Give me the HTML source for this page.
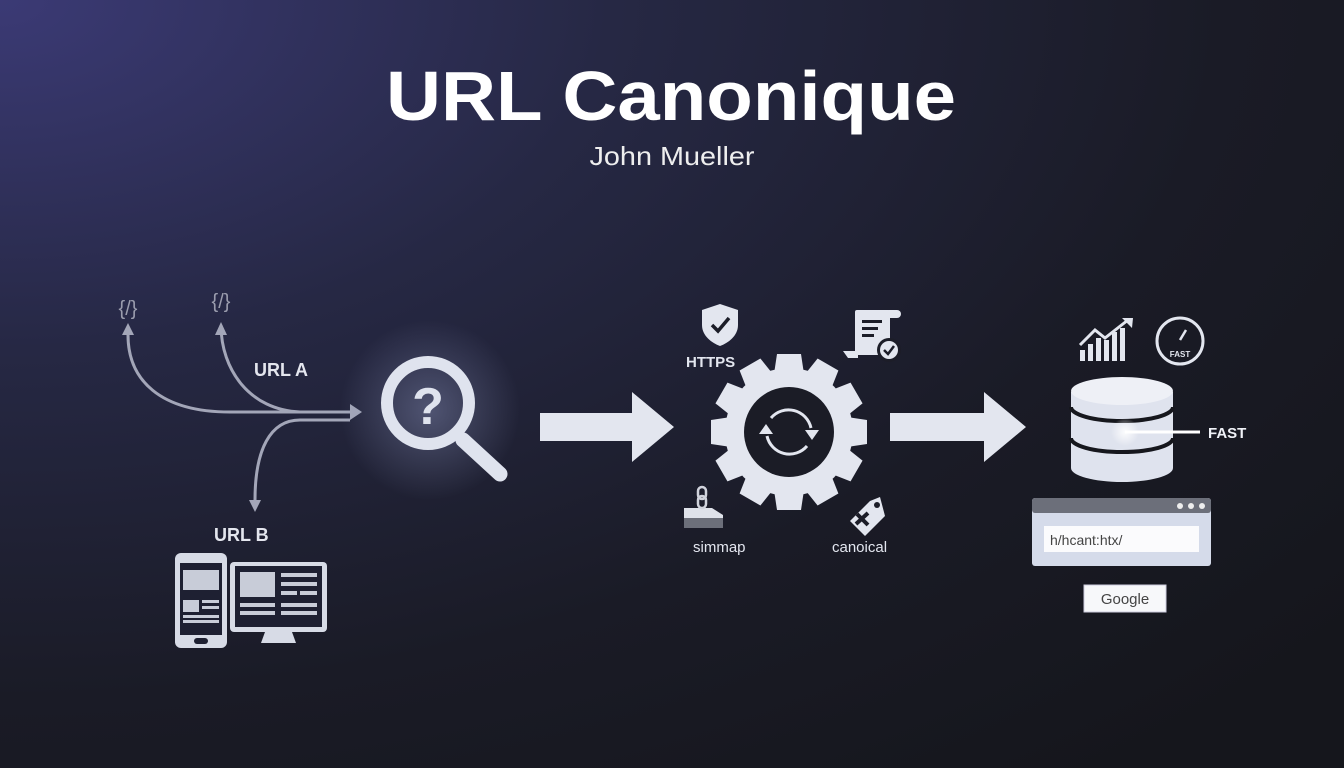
<!DOCTYPE html>
<html><head><meta charset="utf-8"><style>
html,body{margin:0;padding:0;width:1344px;height:768px;overflow:hidden;background:#1b1c26}
</style></head><body>
<svg width="1344" height="768" viewBox="0 0 1344 768" xmlns="http://www.w3.org/2000/svg" font-family="Liberation Sans, sans-serif">
<defs>
<radialGradient id="bg" cx="0" cy="0" r="1.3" gradientUnits="objectBoundingBox">
<stop offset="0" stop-color="#3b3a75"/>
<stop offset="0.35" stop-color="#262844"/>
<stop offset="0.7" stop-color="#1a1b26"/>
<stop offset="1" stop-color="#15161c"/>
</radialGradient>
<radialGradient id="glow"><stop offset="0" stop-color="#8890b8" stop-opacity="0.45"/><stop offset="1" stop-color="#8890b8" stop-opacity="0"/></radialGradient>
<radialGradient id="glow2"><stop offset="0" stop-color="#ffffff" stop-opacity="0.9"/><stop offset="1" stop-color="#ffffff" stop-opacity="0"/></radialGradient>
</defs>
<rect width="1344" height="768" fill="url(#bg)"/>
<text x="671" y="120" text-anchor="middle" font-size="70" font-weight="bold" fill="#fff" textLength="570" lengthAdjust="spacingAndGlyphs">URL Canonique</text>
<text x="672" y="165" text-anchor="middle" font-size="26" fill="#eee" textLength="165" lengthAdjust="spacingAndGlyphs">John Mueller</text>

<g fill="none" stroke="#a3a6b8" stroke-width="3">
<path d="M128 335 C128 380 160 412 230 412 L350 412"/>
<path d="M221 325 C221 370 250 410 300 412"/>
<path d="M350 420 L300 420 C270 420 255 450 255 500"/>
</g>
<g fill="#a3a6b8">
<polygon points="350,404 362,412 350,420"/>
<polygon points="122,335 128,323 134,335"/>
<polygon points="215,335 221,322 227,335"/>
<polygon points="249,500 255,512 261,500"/>
</g>
<text x="128" y="315" text-anchor="middle" font-size="20" fill="#9a9cad">{/}</text>
<text x="221" y="308" text-anchor="middle" font-size="20" fill="#9a9cad">{/}</text>
<text x="254" y="376" font-size="18" font-weight="bold" fill="#e4e6ee">URL A</text>
<text x="214" y="541" font-size="18" font-weight="bold" fill="#e4e6ee">URL B</text>

<g fill="#d7dbe6">
<rect x="175" y="553" width="52" height="95" rx="6"/>
<rect x="230" y="562" width="97" height="70" rx="4"/>
<polygon points="265,632 292,632 296,643 261,643"/>
</g>
<g fill="#1e2032">
<rect x="180" y="563" width="42" height="72"/>
<rect x="235" y="566" width="87" height="61"/>
<rect x="194" y="638" width="14" height="6" rx="3"/>
</g>
<g fill="#c8ccd8">
<rect x="183" y="570" width="36" height="20"/>
<rect x="183" y="600" width="16" height="12"/><rect x="202" y="600" width="17" height="3"/><rect x="202" y="606" width="17" height="3"/>
<rect x="183" y="615" width="36" height="3"/><rect x="183" y="620" width="36" height="3"/>
<rect x="240" y="572" width="35" height="25"/>
<rect x="281" y="573" width="36" height="4"/><rect x="281" y="582" width="36" height="4"/><rect x="281" y="591" width="16" height="4"/><rect x="300" y="591" width="17" height="4"/>
<rect x="240" y="603" width="35" height="4"/><rect x="281" y="603" width="36" height="4"/>
<rect x="240" y="611" width="35" height="4"/><rect x="281" y="611" width="36" height="4"/>
</g>

<circle cx="430" cy="410" r="90" fill="url(#glow)"/>
<circle cx="428" cy="403" r="41" fill="none" stroke="#dfe3ee" stroke-width="12"/>
<line x1="463" y1="440" x2="500" y2="474" stroke="#dfe3ee" stroke-width="15" stroke-linecap="round"/>
<text x="428" y="424" text-anchor="middle" font-size="52" font-weight="bold" fill="#dfe3ee">?</text>

<polygon points="540,413 632,413 632,392 674,427 632,462 632,441 540,441" fill="#e3e6ef"/>
<polygon points="890,413 984,413 984,392 1026,427 984,462 984,441 890,441" fill="#e3e6ef"/>

<g transform="translate(789,432)" fill="#e3e6ef">
<circle r="64"/>
<g id="t"><polygon points="-15,-58 15,-58 12,-78 -12,-78"/></g>
<use href="#t" transform="rotate(30)"/><use href="#t" transform="rotate(60)"/><use href="#t" transform="rotate(90)"/>
<use href="#t" transform="rotate(120)"/><use href="#t" transform="rotate(150)"/><use href="#t" transform="rotate(180)"/>
<use href="#t" transform="rotate(210)"/><use href="#t" transform="rotate(240)"/><use href="#t" transform="rotate(270)"/>
<use href="#t" transform="rotate(300)"/><use href="#t" transform="rotate(330)"/>
<circle r="45" fill="#1b1c26"/>
<path d="M-18 -14 A23 23 0 0 1 22 -4" fill="none" stroke="#e3e6ef" stroke-width="3"/>
<path d="M18 14 A23 23 0 0 1 -22 4" fill="none" stroke="#e3e6ef" stroke-width="3"/>
<polygon points="16,-2 30,-2 23,8"/>
<polygon points="-16,2 -30,2 -23,-8"/>
</g>
<path d="M720 304 L738 310 L738 325 C738 336 728 343 720 346 C712 343 702 336 702 325 L702 310 Z" fill="#e3e6ef"/>
<path d="M712 325 L718 331 L729 318" fill="none" stroke="#1c1d28" stroke-width="3.5"/>
<text x="686" y="367" font-size="15" font-weight="bold" fill="#e3e6ef">HTTPS</text>
<rect x="855" y="310" width="35" height="45" rx="2" fill="#e3e6ef"/>
<rect x="885" y="310" width="16" height="8" rx="4" fill="#e3e6ef"/>
<path d="M843 351 L858 351 L858 358 L848 358 Z" fill="#e3e6ef"/>
<g fill="#1c1d28"><rect x="862" y="320" width="20" height="3"/><rect x="862" y="327" width="16" height="3"/><rect x="862" y="334" width="12" height="3"/></g>
<circle cx="889" cy="350" r="12" fill="#1c1d28"/><circle cx="889" cy="350" r="9" fill="#e3e6ef"/>
<path d="M884 350 L888 354 L894 346" fill="none" stroke="#1c1d28" stroke-width="2.5"/>
<path d="M684 508 L712 508 L723 515 L723 527 L684 527 Z" fill="#dfe2ea"/>
<rect x="684" y="518" width="39" height="10" fill="#6c6f7a"/>
<rect x="698" y="487" width="8" height="12" rx="4" fill="none" stroke="#d0d3dc" stroke-width="2.5"/>
<rect x="698" y="496" width="8" height="12" rx="4" fill="none" stroke="#d0d3dc" stroke-width="2.5"/>
<text x="693" y="552" font-size="15" fill="#e3e6ef">simmap</text>
<path d="M880 497 L885 516 L865 536 L850 521 L870 501 Z" fill="#e3e6ef"/>
<circle cx="877" cy="505" r="3" fill="#1c1d28"/>
<path d="M857 514 L868 525 M856 524 L868 513" stroke="#1c1d28" stroke-width="4"/>
<text x="832" y="552" font-size="15" fill="#e3e6ef">canoical</text>

<g fill="#e3e6ef">
<rect x="1080" y="350" width="5" height="11"/><rect x="1088" y="344" width="5" height="17"/><rect x="1096" y="338" width="5" height="23"/><rect x="1104" y="340" width="5" height="21"/><rect x="1112" y="332" width="5" height="29"/><rect x="1120" y="328" width="5" height="33"/>
</g>
<path d="M1080 345 L1095 330 L1105 338 L1128 320" fill="none" stroke="#e3e6ef" stroke-width="3"/>
<polygon points="1122,318 1133,318 1132,328" fill="#e3e6ef"/>
<circle cx="1180" cy="341" r="23" fill="none" stroke="#e3e6ef" stroke-width="3"/>
<line x1="1180" y1="340" x2="1186" y2="330" stroke="#e3e6ef" stroke-width="2.5"/>
<text x="1180" y="357" text-anchor="middle" font-size="8" font-weight="bold" fill="#e3e6ef">FAST</text>
<path d="M1071 392 L1071 468 A51 14 0 0 0 1173 468 L1173 392 Z" fill="#dfe3ee"/>
<ellipse cx="1122" cy="391" rx="51" ry="14" fill="#eef0f6"/>
<path d="M1071 407 A51 14 0 0 0 1173 407" fill="none" stroke="#16171d" stroke-width="4"/>
<path d="M1071 438 A51 14 0 0 0 1173 438" fill="none" stroke="#16171d" stroke-width="4"/>
<circle cx="1125" cy="432" r="14" fill="url(#glow2)"/>
<line x1="1125" y1="432" x2="1200" y2="432" stroke="#ffffff" stroke-width="3"/>
<text x="1208" y="438" font-size="15" font-weight="bold" fill="#f0f2f8">FAST</text>
<rect x="1032" y="498" width="179" height="68" rx="3" fill="#d5dbea"/>
<rect x="1032" y="498" width="179" height="15" rx="3" fill="#6c6f7a"/>
<circle cx="1180" cy="506" r="3" fill="#eee"/><circle cx="1191" cy="506" r="3" fill="#eee"/><circle cx="1202" cy="506" r="3" fill="#eee"/>
<rect x="1044" y="526" width="155" height="26" fill="#fbfbfd"/>
<text x="1050" y="545" font-size="14" fill="#444">h/hcant:htx/</text>
<rect x="1084" y="585" width="82" height="27" fill="#f7f8fa" stroke="#ccd" stroke-width="1"/>
<text x="1125" y="604" text-anchor="middle" font-size="15" fill="#444">Google</text>
</svg>
</body></html>
